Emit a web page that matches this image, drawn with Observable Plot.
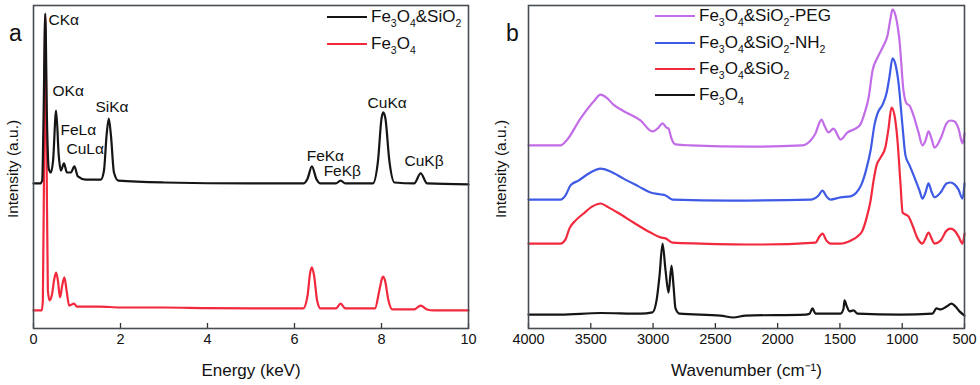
<!DOCTYPE html>
<html><head><meta charset="utf-8">
<script src="https://cdn.jsdelivr.net/npm/d3@7"></script>
<script src="https://cdn.jsdelivr.net/npm/@observablehq/plot@0.6"></script>
<style>
body{margin:0;background:#fff;font-family:Arial,"Liberation Sans",sans-serif;}
#wrap{display:flex;width:980px;height:385px;}
.panel{position:relative;width:490px;height:385px;}
.row{position:absolute;white-space:nowrap;display:flex;align-items:center;font-size:17px;color:#111;height:20px;}
.sw{display:inline-block;width:40px;height:2.5px;margin-right:4px;}
sub{font-size:10.5px;vertical-align:-5px;line-height:0;}
</style></head><body>
<div id="wrap"><div class="panel" id="pa"></div><div class="panel" id="pb"></div></div>
<script>
// ---------- DATA ----------
const BLACK = "#151515", RED = "#f2283c", BLUE = "#3f5be6", PURPLE = "#c36ce8";

// Panel a: EDX spectra [energy keV, intensity a.u.]
const edxSiO2 = [[0,44.9],[0.15,44.9],[0.20,45.8],[0.23,64.4],[0.27,97.5],[0.31,64.4],[0.35,49.5],[0.40,48.3],[0.45,52.0],[0.52,67.5],[0.58,53.6],[0.63,48.9],[0.70,51.1],[0.77,48.3],[0.86,48.3],[0.94,50.2],[1.02,47.1],[1.2,46.1],[1.55,46.1],[1.62,48.9],[1.68,59.8],[1.73,65.0],[1.78,59.8],[1.85,48.3],[1.95,45.8],[3,45.2],[5,44.9],[6.2,44.9],[6.30,46.4],[6.40,50.2],[6.50,46.4],[6.60,44.9],[6.95,44.9],[7.06,45.8],[7.17,44.9],[7.8,44.9],[7.92,52.0],[8.0,65.0],[8.04,66.9],[8.09,65.0],[8.18,52.0],[8.3,45.2],[8.75,44.9],[8.9,48.0],[9.05,44.9],[10,44.6]];
const edxFe3O4 = [[0,5.6],[0.19,5.6],[0.215,8.7],[0.245,55.1],[0.27,96.9],[0.30,55.1],[0.33,11.8],[0.37,8.7],[0.42,10.2],[0.48,15.5],[0.52,17.3],[0.56,14.9],[0.61,9.6],[0.66,13.3],[0.71,15.8],[0.76,11.8],[0.82,7.1],[0.93,7.7],[1.0,6.8],[1.5,6.8],[2,6.5],[3,6.5],[4,6.3],[5,6.2],[6.2,6.2],[6.30,10.2],[6.36,17.3],[6.40,18.9],[6.45,16.4],[6.52,8.7],[6.6,6.2],[6.95,6.2],[7.06,7.7],[7.17,6.2],[7.85,6.2],[7.95,11.8],[8.02,15.8],[8.04,16.1],[8.08,14.9],[8.16,8.7],[8.25,5.9],[8.75,5.9],[8.9,7.1],[9.05,5.9],[9.2,5.6],[10,5.6]];
const peakNames  = ["CKα","OKα","FeLα","CuLα","SiKα","FeKα","FeKβ","CuKα","CuKβ"];
const peakEnergy = [0.345,0.437,0.62,0.76,1.425,6.28,6.67,7.68,8.53];
const peakLevel  = [95.4,73.4,61.3,55.7,68.7,53.3,48.6,69.7,51.7];
const energyTicks = [0,2,4,6,8,10];
const legendA = [["Fe3O4&SiO2", BLACK],["Fe3O4", RED]];

// Panel b: FTIR spectra [wavenumber cm-1, intensity a.u.]
const ftirPEG = [[4000,56.7],[3743,56.7],[3695,58.2],[3583,65.0],[3470,70.6],[3422,72.4],[3374,71.5],[3318,69.3],[3245,67.5],[3101,64.4],[3005,61.0],[2956,62.2],[2924,63.5],[2892,62.2],[2876,61.9],[2852,58.8],[2820,57.0],[2700,56.7],[2218,56.3],[1800,56.7],[1736,58.2],[1696,60.4],[1664,63.8],[1648,64.7],[1624,62.8],[1592,60.7],[1552,61.9],[1495,58.5],[1439,60.7],[1375,61.9],[1335,63.2],[1303,66.6],[1271,71.2],[1238,79.9],[1198,83.9],[1150,87.6],[1118,90.7],[1094,96.0],[1078,98.8],[1054,96.9],[1022,89.2],[990,73.7],[966,69.7],[941,69.0],[909,65.9],[869,60.7],[837,56.7],[813,58.2],[789,61.0],[765,58.8],[741,56.0],[692,58.8],[644,63.5],[612,64.4],[580,64.1],[548,61.9],[516,57.3],[500,60.4]];
const ftirNH2 = [[4000,39.9],[3743,39.9],[3703,41.2],[3663,44.3],[3599,45.8],[3502,48.3],[3422,49.5],[3342,48.6],[3237,46.4],[3117,44.0],[3021,42.1],[2940,41.5],[2900,41.2],[2844,39.9],[2378,39.6],[1736,39.9],[1672,41.2],[1640,42.7],[1608,40.9],[1576,39.9],[1495,40.6],[1415,40.9],[1367,42.1],[1327,44.6],[1287,49.5],[1254,55.1],[1222,63.2],[1198,66.6],[1158,69.3],[1126,72.8],[1102,78.0],[1078,83.6],[1054,81.7],[1030,76.2],[998,62.8],[974,53.6],[941,50.5],[901,46.7],[861,42.7],[837,40.2],[813,42.1],[789,44.9],[765,42.4],[741,40.6],[692,42.1],[644,44.9],[612,45.2],[580,44.6],[548,43.0],[516,40.2],[500,44.9]];
const ftirSiO2 = [[4000,26.3],[3743,26.3],[3703,27.6],[3671,31.0],[3623,33.4],[3558,35.6],[3486,37.8],[3422,38.7],[3358,37.5],[3285,35.9],[3157,32.8],[3021,29.7],[2940,28.2],[2900,27.9],[2844,26.6],[2619,26.3],[2137,26.0],[1696,26.6],[1664,28.5],[1640,29.4],[1608,27.2],[1576,26.3],[1495,26.3],[1415,27.2],[1359,28.5],[1319,30.3],[1287,34.1],[1254,39.6],[1230,45.8],[1206,50.5],[1174,52.9],[1134,56.3],[1110,61.9],[1086,68.4],[1062,66.0],[1038,58.2],[1013,44.3],[997,35.9],[974,35.3],[950,34.7],[917,31.9],[877,27.9],[837,26.3],[813,27.9],[789,29.7],[765,27.9],[741,26.3],[692,27.2],[644,30.3],[612,30.9],[580,30.3],[548,28.5],[516,26.3],[500,29.4]];
const ftirFe3O4 = [[4000,4.3],[3743,4.3],[3422,4.8],[3101,4.6],[3005,5.0],[2972,8.7],[2948,16.4],[2924,26.3],[2900,18.0],[2876,11.1],[2852,19.5],[2836,13.3],[2820,6.2],[2788,4.6],[2459,4.0],[2354,3.4],[2258,4.0],[1776,4.3],[1744,4.6],[1720,6.2],[1696,4.6],[1495,4.6],[1471,6.2],[1463,8.7],[1447,7.1],[1423,5.3],[1391,5.6],[1359,4.6],[1013,4.3],[757,4.6],[725,6.2],[692,5.9],[644,6.8],[604,7.7],[572,6.8],[540,5.3],[500,4.0]];
const waveTicks = [4000,3500,3000,2500,2000,1500,1000,500];
const legendB = [["Fe3O4&SiO2-PEG", PURPLE],["Fe3O4&SiO2-NH2", BLUE],["Fe3O4&SiO2", RED],["Fe3O4", BLACK]];

// ---------- DRAW ----------
const FONT = "Arial, 'Liberation Sans', sans-serif";
const H = 385, MT = 5, MB = 57;
const frameH = H - MT - MB;
const lineOpts = (color) => ({x: d => d[0], y: d => d[1], stroke: color, strokeWidth: 2.2, curve: "monotone-x"});

function commonMarks(ticks, xlabel, dxLabelY, panel, dxPanel) {
  return [
    Plot.tickX(ticks, {x: d => d, stroke: "#333", strokeWidth: 1.3, insetTop: frameH - 5}),
    Plot.text(ticks, {x: d => d, frameAnchor: "bottom", dy: 15, text: d => String(d), fontSize: 14.5, fill: "#111"}),
    Plot.text([xlabel], {frameAnchor: "bottom", dy: 47, fontSize: 17, fill: "#111"}),
    Plot.text(["Intensity (a.u.)"], {frameAnchor: "left", textAnchor: "middle", rotate: -90, dx: dxLabelY, dy: 2, fontSize: 15.5, fill: "#111"}),
    Plot.text([panel], {frameAnchor: "top-left", textAnchor: "middle", dx: dxPanel, dy: 19, fontSize: 23, fill: "#111"}),
    Plot.frame({stroke: "#474d52", strokeWidth: 1.6})
  ];
}

const plotA = Plot.plot({
  width: 490, height: H, marginLeft: 33, marginRight: 22, marginTop: MT, marginBottom: MB,
  style: {fontFamily: FONT, background: "transparent"},
  x: {domain: [0, 10], axis: null},
  y: {domain: [0, 100], axis: null},
  marks: [
    Plot.line(edxFe3O4, lineOpts(RED)),
    Plot.line(edxSiO2, lineOpts(BLACK)),
    Plot.text(peakNames, {x: (d, i) => peakEnergy[i], y: (d, i) => peakLevel[i], text: d => d, textAnchor: "start", fontSize: 15.5, fill: "#111"}),
    ...commonMarks(energyTicks, "Energy (keV)", -20, "a", -18)
  ]
});
document.getElementById("pa").appendChild(plotA);

const plotB = Plot.plot({
  width: 490, height: H, marginLeft: 38, marginRight: 16, marginTop: MT, marginBottom: MB,
  style: {fontFamily: FONT, background: "transparent"},
  x: {domain: [4000, 500], axis: null},
  y: {domain: [0, 100], axis: null},
  marks: [
    Plot.line(ftirFe3O4, lineOpts(BLACK)),
    Plot.line(ftirSiO2, lineOpts(RED)),
    Plot.line(ftirNH2, lineOpts(BLUE)),
    Plot.line(ftirPEG, lineOpts(PURPLE)),
    ...commonMarks(waveTicks, "Wavenumber (cm⁻¹)", -27, "b", -16)
  ]
});
document.getElementById("pb").appendChild(plotB);

// legends (HTML overlay, real text with subscripts)
function addLegend(id, items, left, tops) {
  const host = document.getElementById(id);
  items.forEach(([name, color], i) => {
    const row = document.createElement("div");
    row.className = "row";
    row.style.left = left + "px";
    row.style.top = (tops[i] - 10) + "px";
    row.innerHTML = `<span class="sw" style="background:${color}"></span><span>${name.replace(/([A-Za-z])(\d)/g, "$1<sub>$2</sub>")}</span>`;
    host.appendChild(row);
  });
}
addLegend("pa", legendA, 327, [17, 44]);
addLegend("pb", legendB, 165, [16, 43, 69, 95]);
</script>
</body></html>
